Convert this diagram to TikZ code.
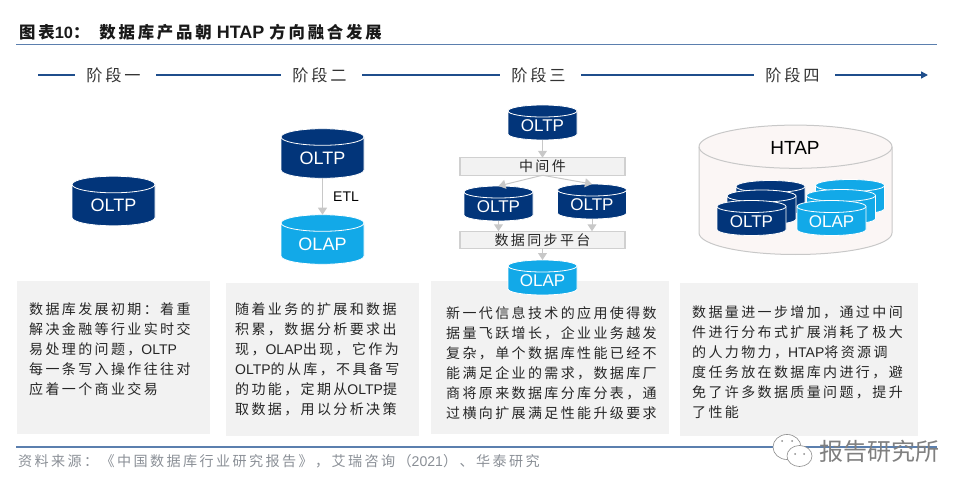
\documentclass[tikz,border=0pt]{standalone}
\usepackage{fontspec}
\usepackage{xcolor}
\usetikzlibrary{arrows.meta,positioning}
\setmainfont{Liberation Sans}
\newfontfamily\cjk[LetterSpace=17]{Noto Sans CJK SC}
\newfontfamily\cjkplain{Noto Sans CJK SC}
\newcommand{\lat}[1]{{\rmfamily #1}}
\definecolor{navy}{HTML}{02357A}
\definecolor{sky}{HTML}{12A9E8}
\definecolor{rulecol}{HTML}{5B7FAE}
\definecolor{stagecol}{HTML}{1F4E8C}
\definecolor{panelcol}{HTML}{F2F2F2}
\definecolor{arrowcol}{HTML}{C8C8C8}
\definecolor{shell}{HTML}{FBF6F5}
\definecolor{srccol}{HTML}{8A8F96}
% name, x, y, half width, half height, end radius, look, label style, label
\newcommand{\dbnode}[9]{%
    \path[#7] ({#2-#4},{#3-#5+#6}) arc[start angle=180, end angle=0, x radius=#4pt, y radius=#6pt]
        -- ({#2+#4},{#3+#5-#6}) arc[start angle=0, end angle=-180, x radius=#4pt, y radius=#6pt] -- cycle;
    \draw[#7, fill=none] ({#2-#4},{#3-#5+#6}) arc[start angle=180, end angle=360, x radius=#4pt, y radius=#6pt];
    \node[#8, minimum width=2*#4pt, minimum height=2*#5pt] (#1) at (#2,#3) {#9};
}
\newcommand{\bigdb}[5]{\dbnode{#1}{#2}{#3}{41.5}{24.8}{8.3}{#4}{biglabel}{#5}}
\newcommand{\smalldb}[5]{\dbnode{#1}{#2}{#3}{34.5}{17.5}{6}{#4}{smalllabel}{#5}}

\begin{document}
\begin{tikzpicture}[
    x=1pt, y=-1pt,
    navydb/.style={fill=navy, draw=white, line width=0.8pt},
    skydb/.style={fill=sky, draw=white, line width=0.8pt},
    shelldb/.style={fill=shell, draw=arrowcol, line width=1pt},
    biglabel/.style={inner sep=0pt, outer sep=0pt, text=white, text height=21pt, text depth=0pt, font=\fontsize{18}{18}\selectfont},
    smalllabel/.style={inner sep=0pt, outer sep=0pt, text=white, text height=18pt, text depth=0pt, font=\fontsize{17}{17}\selectfont},
    shelllabel/.style={inner sep=0pt, outer sep=0pt},
    panel/.style={rectangle, fill=panelcol, anchor=north west, minimum height=153pt, inner sep=0pt, outer sep=0pt},
    bodytext/.style={anchor=north west, align=left, inner sep=0pt, font=\cjk\fontsize{14}{20}\selectfont, text=black!85},
    midbox/.style={rectangle, draw=arrowcol!85, line width=1.2pt, fill=panelcol, minimum width=165pt, minimum height=17.5pt,
        inner sep=0pt, outer sep=0pt, font=\cjk\fontsize{14}{14}\selectfont, text=black!85},
    stagelabel/.style={inner xsep=11.5pt, inner ysep=0pt, outer sep=0pt, font=\cjk\fontsize{16.2}{17}\selectfont, text=black!80},
    stageline/.style={stagecol, line width=1.4pt, shorten <=4pt},
    flow/.style={-{Triangle[length=7pt,width=9pt]}, arrowcol, line width=1pt},
    toprule/.style={rulecol, line width=1.8pt}
]
    \useasboundingbox (0,0) rectangle (970,495);

    % title and rules
    \node[anchor=west, inner sep=0pt, font=\cjk\bfseries\fontsize{16.4}{16}\selectfont, text=black!90] (title) at (19,32)
        {图表\lat{10}：\hspace{10pt}数据库产品朝\hspace{5pt}\lat{\fontsize{18}{18}\selectfont HTAP}\hspace{5pt}方向融合发展};
    \coordinate (ruleA) at (16,44.5);
    \coordinate (ruleB) at (937,44.5);
    \draw[toprule] (ruleA) -- (ruleB);

    % stage line
    \coordinate (lineStart) at (34,75);
    \coordinate (lineEnd) at (928,75);
    \node[stagelabel] (stageA) at (113.5,75) {阶段一};
    \node[stagelabel] (stageB) at (319.5,75) {阶段二};
    \node[stagelabel] (stageC) at (538.5,75) {阶段三};
    \node[stagelabel] (stageD) at (792.5,75) {阶段四};
    \draw[stageline] (lineStart) -- (stageA);
    \draw[stageline] (stageA) -- (stageB);
    \draw[stageline] (stageB) -- (stageC);
    \draw[stageline] (stageC) -- (stageD);
    \draw[stageline, -{Triangle[length=7pt,width=7pt]}] (stageD) -- (lineEnd);

    % text panels
    \node[panel, minimum width=193pt] (panelA) at (17,281) {};
    \node[panel, minimum width=193pt] (panelB) at (226,283) {};
    \node[panel, minimum width=238pt] (panelC) at (431,281) {};
    \node[panel, minimum width=238pt] (panelD) at (680,283) {};

    \node[bodytext] (textA) at (29,302.5) {数据库发展初期：着重\\解决金融等行业实时交\\易处理的问题，\lat{OLTP}\\每一条写入操作往往对\\应着一个商业交易};
    \node[bodytext] (textB) at (235,302.5) {随着业务的扩展和数据\\积累，数据分析要求出\\现，\lat{OLAP}出现，它作为\\\lat{OLTP}的从库，不具备写\\的功能，定期从\lat{OLTP}提\\取数据，用以分析决策};
    \node[bodytext] (textC) at (446,306) {新一代信息技术的应用使得数\\据量飞跃增长，企业业务越发\\复杂，单个数据库性能已经不\\能满足企业的需求，数据库厂\\商将原来数据库分库分表，通\\过横向扩展满足性能升级要求};
    \node[bodytext] (textD) at (692,305.5) {数据量进一步增加，通过中间\\件进行分布式扩展消耗了极大\\的人力物力，\lat{HTAP}将资源调\\度任务放在数据库内进行，避\\免了许多数据质量问题，提升\\了性能};

    % stage one
    \bigdb{oltpOne}{113.5}{201}{navydb}{OLTP}

    % stage two
    \bigdb{oltpTwo}{322.5}{153.5}{navydb}{OLTP}
    \bigdb{olapTwo}{322.5}{239.5}{skydb}{OLAP}
    \draw[flow] (oltpTwo) -- (olapTwo);
    \node[inner sep=0pt, font=\fontsize{14}{14}\selectfont] (etl) at (346,197) {ETL};

    % stage three
    \smalldb{oltpTop}{542.5}{122.5}{navydb}{OLTP}
    \node[midbox] (middle) at (542.5,166.5) {中间件};
    \smalldb{oltpLeft}{498.5}{203.5}{navydb}{OLTP}
    \smalldb{oltpRight}{592}{201.5}{navydb}{OLTP}
    \node[midbox] (syncbox) at (542.5,240) {数据同步平台};
    \smalldb{olapThree}{542.5}{277.5}{skydb}{OLAP}
    \draw[flow] (oltpTop) -- (middle);
    \draw[flow] (middle.south) -- (oltpLeft.north);
    \draw[flow] (middle.south) -- (oltpRight.north);
    \draw[flow] (oltpLeft) -- (oltpLeft |- syncbox.north);
    \draw[flow] (oltpRight) -- (oltpRight |- syncbox.north);
    \draw[flow] (syncbox) -- (olapThree);

    % stage four
    \dbnode{htapShell}{795.5}{189.8}{96.5}{64.7}{21.6}{shelldb}{shelllabel}{}
    \node[inner sep=0pt, font=\fontsize{19}{19}\selectfont] (htap) at (795,148) {HTAP};
    \smalldb{oltpBack}{770.5}{198}{navydb}{}
    \smalldb{oltpMid}{761.5}{207.5}{navydb}{}
    \smalldb{oltpFront}{751.5}{218}{navydb}{OLTP}
    \smalldb{olapBack}{850}{197}{skydb}{}
    \smalldb{olapMid}{841}{207}{skydb}{}
    \smalldb{olapFront}{831.5}{218}{skydb}{OLAP}

    % source line
    \coordinate (ruleC) at (16,447);
    \coordinate (ruleD) at (937,447);
    \draw[toprule] (ruleC) -- (ruleD);
    \node[anchor=west, inner sep=0pt, font=\cjk\fontsize{14.1}{14}\selectfont, text=srccol] (source) at (18,461)
        {资料来源：《中国数据库行业研究报告》，艾瑞咨询（\lat{2021}）、华泰研究};

    % watermark
    \draw[black!45, fill=white, line width=0.6pt] (787,447) ellipse (14pt and 12.5pt);
    \draw[black!45, fill=white, line width=0.6pt] (799.5,456) ellipse (12.5pt and 10.5pt);
    \fill[black!45] (782,441) circle (1pt) (792,441) circle (1pt) (795,454) circle (1pt) (804,454) circle (1pt);
    \node[anchor=west, inner sep=0pt, font=\cjkplain\fontsize{24}{24}\selectfont, text=black!50] (mark) at (819,451) {报告研究所};
\end{tikzpicture}
\end{document}
